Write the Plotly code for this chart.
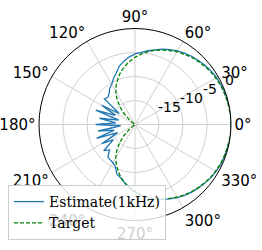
import math
import plotly.graph_objects as go

# angles (degrees)
theta_deg = list(range(0, 361, 5))

# Target pattern (dB) (clipped at -20 dB near the rear null)
target_db = [0.0, 0.0, -0.1, -0.2, -0.3, -0.4, -0.6, -0.8, -1.1, -1.4, -1.7, -2.1,
             -2.5, -3.0, -3.5, -4.0, -4.6, -5.3, -6.0, -6.8, -7.7, -8.6, -9.7, -10.8,
             -12.0, -13.4, -15.0, -16.7, -18.6, -20.0, -20.0, -20.0, -20.0, -20.0, -20.0, -20.0,
             -20.0, -20.0, -20.0, -20.0, -20.0, -20.0, -20.0, -20.0, -18.6, -16.7, -15.0, -13.4,
             -12.0, -10.8, -9.7, -8.6, -7.7, -6.8, -6.0, -5.3, -4.6, -4.0, -3.5, -3.0,
             -2.5, -2.1, -1.7, -1.4, -1.1, -0.8, -0.6, -0.4, -0.3, -0.2, -0.1, 0.0, 0.0]

# Estimate at 1 kHz (dB)
estimate_db = [0.1, 0.0, 0.1, -0.1, -0.1, -0.3, -0.4, -0.6, -0.9, -1.2, -1.5, -1.9,
               -2.3, -2.8, -3.3, -3.9, -4.4, -4.9, -5.3, -5.9, -6.6, -7.4, -8.6, -9.4,
               -10.3, -10.8, -11.6, -12.0, -11.7, -16.0, -12.0, -15.5, -11.3, -16.5, -12.5, -16.0,
               -11.8, -17.0, -12.2, -15.5, -11.5, -16.0, -12.0, -14.5, -11.5, -12.5, -11.2, -11.0,
               -10.8, -10.3, -9.0, -8.5, -7.6, -6.8, -5.9, -5.1, -4.5, -3.9, -3.4, -2.9,
               -2.4, -2.0, -1.6, -1.3, -1.0, -0.7, -0.5, -0.3, -0.2, -0.1, 0.0, 0.1, 0.1]

r_range = [-20, 0]
r_ticks = [-15, -10, -5, 0]
r_tick_labels = ["-15", "-10", "-5", "0"]
r_label_angle = 22.5
theta_ticks = list(range(0, 360, 30))
theta_tick_labels = [f"{t}°" for t in theta_ticks]

fig = go.Figure()
fig.add_trace(go.Scatterpolar(r=estimate_db, theta=theta_deg, mode="lines",
                              name="Estimate(1kHz)",
                              line=dict(color="#1f77b4", width=1.3)))
fig.add_trace(go.Scatterpolar(r=target_db, theta=theta_deg, mode="lines",
                              name="Target",
                              line=dict(color="#008000", width=1.3, dash="4px,2px")))

W, H = 262, 250
cx, cy, R = 135, 124.5, 96

# radial tick labels anchored left-bottom at each tick along 22.5 degrees (matplotlib style)
annotations = []
for v, txt in zip(r_ticks, r_tick_labels):
    rp = (v - r_range[0]) / (r_range[1] - r_range[0]) * R
    px = cx + rp * math.cos(math.radians(r_label_angle))
    py = cy - rp * math.sin(math.radians(r_label_angle))
    annotations.append(dict(x=px / W, y=1 - py / H, xref="paper", yref="paper",
                            text=txt, showarrow=False, xanchor="left", yanchor="bottom",
                            borderpad=0, yshift=-1,
                            font=dict(family="DejaVu Sans", size=14, color="black")))

fig.update_layout(
    width=W, height=H,
    margin=dict(l=0, r=0, t=0, b=0),
    paper_bgcolor="white",
    font=dict(family="DejaVu Sans", size=14, color="black"),
    polar=dict(
        domain=dict(x=[(cx - R) / W, (cx + R) / W], y=[(H - cy - R) / H, (H - cy + R) / H]),
        bgcolor="white",
        angularaxis=dict(direction="counterclockwise", rotation=0,
                         tickmode="array", tickvals=theta_ticks, ticktext=theta_tick_labels,
                         showline=True, linecolor="black", linewidth=1,
                         gridcolor="#d0d0d0", gridwidth=0.8, ticks="",
                         tickfont=dict(family="DejaVu Sans", size=15)),
        radialaxis=dict(range=r_range, tickmode="array", tickvals=r_ticks,
                        showticklabels=False, angle=r_label_angle,
                        showline=False, ticks="", gridcolor="#d0d0d0", gridwidth=0.8),
    ),
    annotations=annotations,
    showlegend=True,
    legend=dict(x=8 / W, y=1 - 185 / H, xanchor="left", yanchor="top",
                bgcolor="rgba(255,255,255,0.8)", bordercolor="#cccccc", borderwidth=1,
                font=dict(family="DejaVu Serif", size=14), tracegroupgap=0),
)

fig.write_html("out.html", config={"displayModeBar": False},
               post_script="document.body.style.margin='0px';")
